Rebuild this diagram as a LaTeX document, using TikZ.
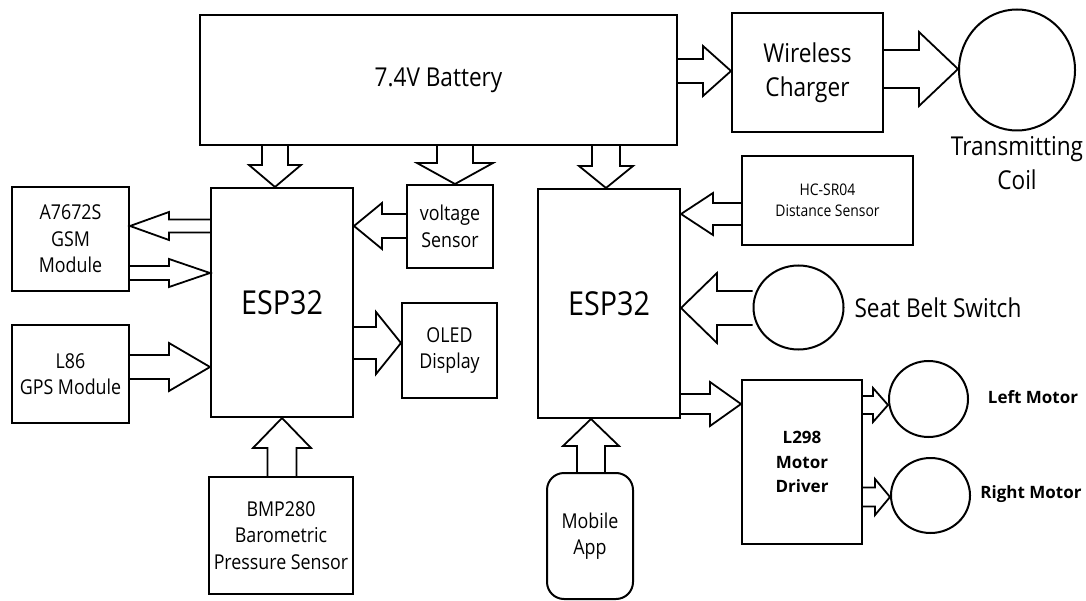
\documentclass[tikz,border=0pt]{standalone}
\usepackage{fontspec}
\setmainfont{Open Sans}[FakeStretch=0.87]
\newfontfamily\boldfam{Open Sans}
\usetikzlibrary{calc,shapes.geometric}
\tikzset{
  box/.style={draw, line width=2pt, inner sep=0pt, align=center},
  ring/.style={draw, ellipse, line width=2pt, inner sep=0pt},
  arrowline/.style={draw, line width=1.8pt, line join=miter},
  big/.style={font=\fontsize{26}{34}\selectfont},
  huge/.style={font=\fontsize{33}{40}\selectfont},
  mid/.style={font=\fontsize{20.5}{26.5}\selectfont},
  small/.style={font=\fontsize{16}{21}\selectfont},
  boldtxt/.style={font=\boldfam\bfseries\fontsize{17}{24.5}\selectfont},
}
% block arrow: from #1 to #2, shaft half-width #3, head half-width #4, head length #5
\newcommand{\barrow}[5]{%
  \path (#1) coordinate (bs) (#2) coordinate (be);
  \path ($(be)!#5!(bs)$) coordinate (bb);
  \draw[arrowline] ($(bs)!#3!90:(be)$) -- ($(bb)!#3!-90:(bs)$) -- ($(bb)!#4!-90:(bs)$)
    -- (be) -- ($(bb)!#4!90:(bs)$) -- ($(bb)!#3!90:(bs)$) -- ($(bs)!#3!-90:(be)$);
}
\begin{document}
\begin{tikzpicture}[x=1pt,y=-1pt]
\useasboundingbox (0,0) rectangle (1086,601);

% nodes
\node[box, minimum width=477, minimum height=130, big] (bat) at (438.5,80) {7.4V Battery};
\node[box, minimum width=151, minimum height=119, big] (chg) at (807.5,72.5) {Wireless\\Charger};
\node[ring, minimum width=116, minimum height=121] (coil) at (1017,70) {};
\node[big, align=center] (coiltxt) at (1017,163) {Transmitting\\Coil};

\node[box, minimum width=142, minimum height=229, huge] (esp1) at (282,302.5) {ESP32};
\node[box, minimum width=142, minimum height=229, huge] (esp2) at (609,303.5) {ESP32};

\node[box, minimum width=117, minimum height=104, mid] (gsm) at (70.5,239) {A7672S\\GSM\\Module};
\node[box, minimum width=117, minimum height=98, mid] (gps) at (70.5,374) {L86\\GPS Module};
\node[box, minimum width=86, minimum height=83, mid] (volt) at (450,226.5) {voltage\\Sensor};
\node[box, minimum width=95, minimum height=95, mid] (oled) at (449.5,350.5) {OLED\\Display};
\node[box, minimum width=144, minimum height=117, mid] (bmp) at (281,535.5) {BMP280\\Barometric\\Pressure Sensor};

\node[box, minimum width=171, minimum height=89, small] (hc) at (827.5,200.5) {HC-SR04\\Distance Sensor};
\node[ring, minimum width=90, minimum height=84] (seat) at (798.5,307.5) {};
\node[big, anchor=west] (seattxt) at (851,308) {Seat Belt Switch};

\node[box, minimum width=120, minimum height=164, boldtxt] (l298) at (802,462) {L298\\Motor\\Driver};
\node[ring, minimum width=79, minimum height=76] (lm) at (928.5,399) {};
\node[ring, minimum width=79, minimum height=75] (rm) at (930.5,495.5) {};
\node[boldtxt] (lmtxt) at (1033,397) {Left Motor};
\node[boldtxt] (rmtxt) at (1031,494) {Right Motor};

\node[box, rounded corners=17, minimum width=86, minimum height=126, mid] (app) at (590,536) {Mobile\\App};

% helper coordinates for arrow lines
\coordinate (x275) at (275,0);
\coordinate (x455) at (455,0);
\coordinate (x606) at (606,0);
\coordinate (x282) at (282,0);
\coordinate (x591) at (591,0);
\coordinate (y71) at (0,71);
\coordinate (y69) at (0,69);
\coordinate (y226) at (0,226);
\coordinate (y273) at (0,273);
\coordinate (y367) at (0,367);
\coordinate (y343) at (0,343);
\coordinate (y214) at (0,214);
\coordinate (y308) at (0,308);
\coordinate (y404) at (0,404);
\coordinate (y405) at (0,405);
\coordinate (y497) at (0,497);

% connectors
\barrow{x275 |- bat.south}{x275 |- esp1.north}{13pt}{26pt}{22pt}
\barrow{x455 |- bat.south}{x455 |- volt.north}{18pt}{38pt}{21pt}
\barrow{x606 |- bat.south}{x606 |- esp2.north}{14pt}{27pt}{22pt}
\barrow{bat.east |- y71}{chg.west |- y71}{12pt}{25pt}{28pt}
\barrow{chg.east |- y69}{coil.west |- y69}{19pt}{37pt}{39pt}
\barrow{esp1.west |- y226}{gsm.east |- y226}{6.5pt}{14pt}{39pt}
\barrow{gsm.east |- y273}{esp1.west |- y273}{7pt}{14pt}{41pt}
\barrow{gps.east |- y367}{esp1.west |- y367}{12pt}{24pt}{41pt}
\barrow{volt.west |- y226}{esp1.east |- y226}{12pt}{23pt}{28pt}
\barrow{esp1.east |- y343}{oled.west |- y343}{16pt}{31pt}{25pt}
\barrow{x282 |- bmp.north}{x282 |- esp1.south}{14.5pt}{29pt}{30pt}
\barrow{hc.west |- y214}{esp2.east |- y214}{11pt}{21pt}{32pt}
\barrow{seat.west |- y308}{esp2.east |- y308}{17pt}{35pt}{36pt}
\barrow{esp2.east |- y404}{l298.west |- y404}{10pt}{22pt}{31pt}
\barrow{l298.east |- y405}{lm.west |- y405}{9pt}{17pt}{15pt}
\barrow{l298.east |- y497}{rm.west |- y497}{9.5pt}{18pt}{15pt}
\barrow{x591 |- app.north}{x591 |- esp2.south}{14pt}{28pt}{27pt}
\end{tikzpicture}
\end{document}
